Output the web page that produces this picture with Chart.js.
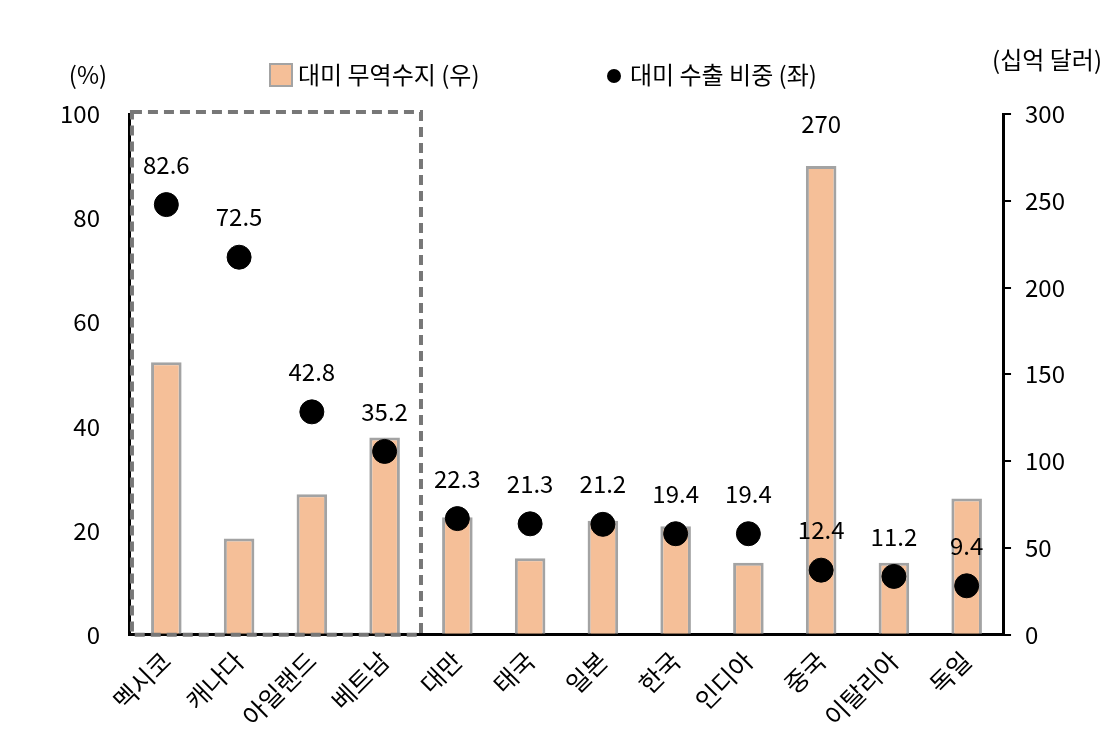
<!DOCTYPE html>
<html><head><meta charset="utf-8">
<script src="https://cdn.jsdelivr.net/npm/chart.js@4"></script>
<style>body{margin:0;background:#fff}#wrap{width:1115px;height:737px}</style>
</head><body><div id="wrap"><canvas id="c"></canvas></div>
<script>
const categories = ['멕시코','캐나다','아일랜드','베트남','대만','태국','일본','한국','인디아','중국','이탈리아','독일'];
const tradeBalance = [157,55.5,81,113.6,67.7,44,65.7,62.5,41.5,270,41.5,78.5];
const exportShare = [82.6,72.5,42.8,35.2,22.3,21.3,21.2,19.4,19.4,12.4,11.2,9.4];
const leftTicks = [0,20,40,60,80,100];
const rightTicks = [0,50,100,150,200,250,300];
const FONT = "'Noto Sans CJK KR','Noto Sans',sans-serif";

const overlay = {
  id: 'overlay',
  afterDatasetsDraw(chart) {
    const {ctx, chartArea: a, scales} = chart;
    const x = scales.x;
    ctx.save();
    ctx.font = '24px ' + FONT;
    ctx.fillStyle = '#000';
    ctx.textAlign = 'center';
    ctx.textBaseline = 'bottom';
    chart.getDatasetMeta(1).data.forEach((p, i) => {
      ctx.fillText(exportShare[i].toFixed(1), p.x, p.y - 28);
    });
    const ci = categories.indexOf('중국');
    const bar = chart.getDatasetMeta(0).data[ci];
    ctx.fillText(String(tradeBalance[ci]), bar.x, bar.y - 30);
    // axis titles
    ctx.textBaseline = 'middle';
    ctx.fillText('(%)', a.left - 42, 75);
    ctx.fillText('(십억 달러)', a.right + 44, 60);
    // legend
    ctx.textAlign = 'left';
    ctx.fillStyle = '#F5BF98'; ctx.strokeStyle = '#A3A3A3'; ctx.lineWidth = 2;
    ctx.fillRect(270, 64, 22, 22); ctx.strokeRect(270, 64, 22, 22);
    ctx.fillStyle = '#000';
    ctx.fillText('대미 무역수지 (우)', 298, 75);
    ctx.beginPath(); ctx.arc(614, 76, 7, 0, Math.PI * 2); ctx.fill();
    ctx.fillText('대미 수출 비중 (좌)', 630, 75);
    // dashed box around first four
    const w = x.getPixelForValue(1) - x.getPixelForValue(0);
    const bx = x.getPixelForValue(3) + w / 2;
    ctx.strokeStyle = '#777';
    ctx.lineWidth = 4;
    ctx.setLineDash([10, 6]);
    ctx.strokeRect(a.left + 2, a.top - 2, bx - a.left - 2, a.bottom - a.top + 2);
    ctx.restore();
  }
};

new Chart(document.getElementById('c'), {
  data: {
    labels: categories,
    datasets: [
      { type: 'bar', label: '대미 무역수지 (우)', data: tradeBalance, yAxisID: 'yR',
        backgroundColor: '#F5BF98', borderColor: '#A3A3A3', borderWidth: 3,
        barPercentage: 0.42, categoryPercentage: 1, order: 2 },
      { type: 'scatter', label: '대미 수출 비중 (좌)', data: exportShare, yAxisID: 'yL',
        backgroundColor: '#000', borderColor: '#000', pointRadius: 12, order: 1 }
    ]
  },
  options: {
    responsive: true, maintainAspectRatio: false, animation: false,
    layout: { padding: { top: 114, left: 38, right: 36, bottom: 2 } },
    plugins: { tooltip: { enabled: false }, legend: { display: false } },
    scales: {
      x: { type: 'category', grid: { display: false }, border: { color: '#000', width: 3 },
        ticks: { color: '#000', font: { size: 25, family: FONT }, maxRotation: 45, minRotation: 45 } },
      yL: { position: 'left', min: 0, max: 100, afterBuildTicks: s => { s.ticks = leftTicks.map(v => ({ value: v })); },
        grid: { display: false }, border: { color: '#000', width: 3 },
        ticks: { color: '#000', font: { size: 24, family: FONT }, padding: 22 } },
      yR: { position: 'right', min: 0, max: 300, afterBuildTicks: s => { s.ticks = rightTicks.map(v => ({ value: v })); },
        grid: { drawOnChartArea: false, tickLength: 8, color: '#000', lineWidth: 2 }, border: { color: '#000', width: 3 },
        ticks: { color: '#000', font: { size: 24, family: FONT }, padding: 14 } }
    }
  },
  plugins: [overlay]
});
</script></body></html>
